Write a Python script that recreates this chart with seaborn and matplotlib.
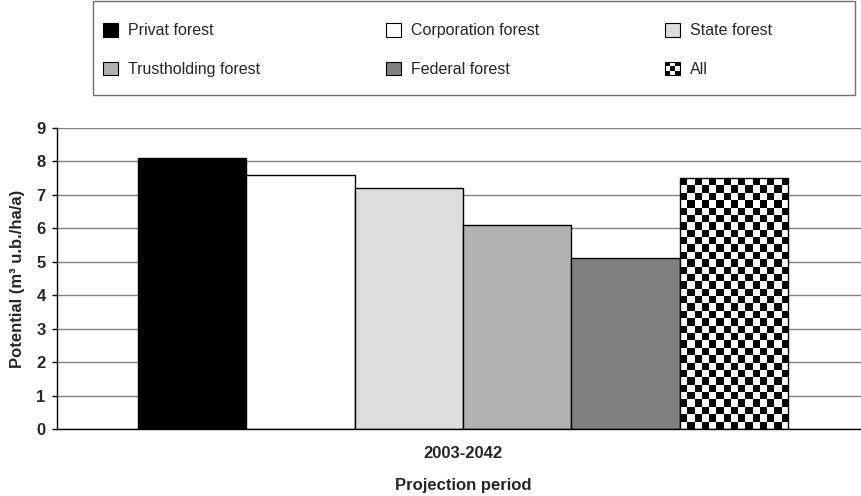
import numpy as np
import pandas as pd
import matplotlib
matplotlib.use('Agg')
import matplotlib.pyplot as plt
from matplotlib.patches import Patch, Rectangle
from matplotlib.legend_handler import HandlerBase
import seaborn as sns

period = '2003-2042'
owners = ['Privat forest', 'Corporation forest', 'State forest',
          'Trustholding forest', 'Federal forest', 'All']
values = [8.1, 7.6, 7.2, 6.1, 5.1, 7.5]
colors = ['#000000', '#ffffff', '#dddddd', '#b2b2b2', '#808080', '#ffffff']
yticks = list(range(0, 10))


class CheckerHandler(HandlerBase):
    # small 3x3 checkerboard for the "All" legend key
    def create_artists(self, legend, orig_handle, xd, yd, width, height,
                       fontsize, trans):
        n = 3
        cw, ch = width / n, height / n
        arts = []
        for i in range(n):
            for j in range(n):
                c = 'black' if (i + j) % 2 == 0 else 'white'
                arts.append(Rectangle((-xd + i * cw, -yd + j * ch), cw, ch,
                                      facecolor=c, edgecolor='none',
                                      transform=trans))
        arts.append(Rectangle((-xd, -yd), width, height, facecolor='none',
                              edgecolor='black', lw=0.8, transform=trans))
        return arts


sns.set_theme(style='white')
plt.rcParams['font.family'] = ['Liberation Sans', 'DejaVu Sans']

df = pd.DataFrame({'period': [period] * len(owners), 'owner': owners,
                   'value': values})

fig = plt.figure(figsize=(8.62, 4.96), dpi=100)
ax = fig.add_axes([57 / 862, 67 / 496, (869 - 57) / 862, (429 - 128) / 496])

sns.barplot(data=df, x='period', y='value', hue='owner', hue_order=owners,
            palette=colors, saturation=1, width=0.8, edgecolor='black',
            linewidth=1, legend=False, ax=ax)

ax.set_xlim(-0.5, 0.5)
ax.set_ylim(0, 9)
ax.set_yticks(yticks)
ax.yaxis.grid(True, color='#808080', lw=1)
ax.set_axisbelow(True)
for s in ['top', 'right']:
    ax.spines[s].set_visible(False)
for s in ['left', 'bottom']:
    ax.spines[s].set_color('black')
    ax.spines[s].set_linewidth(1)

# checkerboard fill for the "All" bar
bar = ax.containers[-1][0]
x0, w, h = bar.get_x(), bar.get_width(), bar.get_height()
p0 = ax.transData.transform((x0, 0))
p1 = ax.transData.transform((x0 + w, h))
ncols = max(1, round((p1[0] - p0[0]) / 7.4))
nrows = max(1, round((p1[1] - p0[1]) / 7.4))
grid = np.indices((nrows, ncols)).sum(axis=0) % 2
img = ax.imshow(grid, cmap='gray', extent=(x0, x0 + w, 0, h), aspect='auto',
                interpolation='nearest', origin='upper',
                zorder=bar.get_zorder() + 0.1)
img.set_clip_path(bar)
bar.set_facecolor('none')
bar.set_zorder(bar.get_zorder() + 0.2)
ax.set_xlim(-0.5, 0.5)
ax.set_ylim(0, 9)

ax.tick_params(axis='y', direction='out', length=3.6, width=1, color='black',
               left=True, pad=4.5, labelsize=12)
ax.tick_params(axis='x', length=0, pad=12.5, labelsize=12)
for t in ax.get_xticklabels() + ax.get_yticklabels():
    t.set_fontweight('bold')

ax.set_xlabel('Projection period', fontsize=12, fontweight='bold', labelpad=12)
ax.set_ylabel('Potential (m³ u.b./ha/a)', fontsize=12, fontweight='bold',
              labelpad=8)

handles = [Patch(facecolor=c, edgecolor='black', lw=0.8) for c in colors]
order = [0, 3, 1, 4, 2, 5]
leg = fig.legend([handles[i] for i in order], [owners[i] for i in order],
                 loc='upper left', bbox_to_anchor=(103 / 862, 1 - 23 / 496),
                 ncol=3, frameon=False, fontsize=11.5,
                 handlelength=0.95, handleheight=0.95, handletextpad=0.6,
                 labelspacing=1.45, columnspacing=7.9, borderpad=0,
                 borderaxespad=0,
                 handler_map={handles[5]: CheckerHandler()})

# legend border box
fig.patches.append(Rectangle((93 / 862, (496 - 95) / 496), 762 / 862, 94 / 496,
                             transform=fig.transFigure, facecolor='none',
                             edgecolor='#707070', lw=1))

fig.savefig('out.png', dpi=100)
